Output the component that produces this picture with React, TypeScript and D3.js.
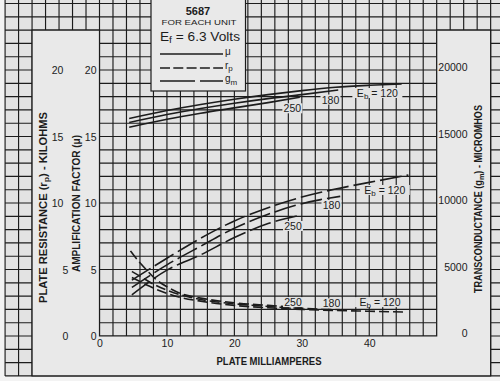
import React from "react";
import * as d3 from "d3";

type Pt = [number, number];

// Tick labels
const xTickValues = [0, 10, 20, 30, 40];
const rpTickValues = [0, 5, 10, 15, 20];
const muTickValues = [0, 5, 10, 15, 20];
const gmTickValues = [0, 5000, 10000, 15000, 20000];

// Amplification factor (mu) vs plate mA
const mu120: Pt[] = [[4.4, 16.35], [10, 16.95], [15, 17.4], [20, 17.8], [25, 18.15], [30, 18.45], [35, 18.7], [40, 18.85], [44.8, 18.95]];
const mu180: Pt[] = [[4.4, 16.05], [10, 16.65], [15, 17.1], [20, 17.5], [25, 17.85], [30, 18.15], [35.4, 18.5]];
const mu250: Pt[] = [[4.4, 15.7], [10, 16.3], [15, 16.75], [20, 17.15], [25, 17.55], [29.7, 17.95]];

// Transconductance (micromhos) vs plate mA
const gm120: Pt[] = [[4.8, 4200], [10, 5850], [15, 7350], [20, 8650], [25, 9650], [30, 10450], [35, 11050], [40, 11550], [45.8, 12100]];
const gm180: Pt[] = [[4.8, 3650], [10, 5350], [15, 6750], [20, 8100], [25, 9150], [30, 9950], [35.7, 10500]];
const gm250: Pt[] = [[4.8, 3100], [10, 4950], [15, 6100], [20, 7400], [25, 8450], [30, 9100]];

// Plate resistance (kilohms) vs plate mA
const rp250: Pt[] = [[4.6, 6.4], [6, 5.5], [7, 4.95], [8.5, 4.2], [10, 3.7], [12, 3.2], [15, 2.85], [20, 2.5], [25, 2.3], [30, 2.15]];
const rp180: Pt[] = [[4.8, 4.85], [6, 4.5], [8, 3.9], [10, 3.45], [12, 3.1], [15, 2.75], [20, 2.42], [25, 2.22], [30, 2.08], [35.7, 1.98]];
const rp120: Pt[] = [[4.8, 4.4], [6, 4.1], [8, 3.6], [10, 3.2], [12, 2.9], [15, 2.62], [20, 2.3], [25, 2.12], [30, 2.0], [35, 1.92], [40, 1.86], [45, 1.8]];

// Curve labels: [mA, value on left scale, text, subscriptLabel]
const curveLabels: { x: number; v: number; t: string; eb: boolean }[] = [
  { x: 28.6, v: 17.12, t: "250", eb: false },
  { x: 34.25, v: 17.78, t: "180", eb: false },
  { x: 41.2, v: 18.27, t: "120", eb: true },
  { x: 28.7, v: 8.27, t: "250", eb: false },
  { x: 34.4, v: 9.85, t: "180", eb: false },
  { x: 42.3, v: 10.98, t: "120", eb: true },
  { x: 28.7, v: 2.55, t: "250", eb: false },
  { x: 34.4, v: 2.45, t: "180", eb: false },
  { x: 41.6, v: 2.55, t: "120", eb: true },
];

const INK = "#1c1c1c";
const CELL = "#e3e3e3";
const PANEL = "#e9e9e9";
const OUTSIDE = "#f3f3f3";
const NUM_FONT = "'Liberation Sans', Arial, sans-serif";

export default function App() {
  const x = d3.scaleLinear().domain([0, 50]).range([99.5, 436.7]);
  const y = d3.scaleLinear().domain([0, 25]).range([336, 3.5]);
  const yGm = d3.scaleLinear().domain([0, 25000]).range([336, 3.5]);

  const lineL = d3.line<Pt>().x((d) => x(d[0])).y((d) => y(d[1])).curve(d3.curveMonotoneX);
  const lineG = d3.line<Pt>().x((d) => x(d[0])).y((d) => yGm(d[1])).curve(d3.curveMonotoneX);

  const gridLeft = x(-14);
  const gridBottom = y(-3);
  const vLines = d3.range(-14, 62, 2);
  const hLines = d3.range(-3, 26, 1);

  const pL = x(-10), p0 = x(0), p50 = x(50), pR = x(58);
  const pTop = y(23), pB = y(-3), pY0 = y(0);
  const panelPath = `M${pL},${pTop} L${pL},${pB} L${pR},${pB} L${pR},${pTop} L${p50},${pTop} L${p50},${pY0} L${p0},${pY0} L${p0},${pTop} Z`;

  return (
    <svg width={500} height={381} style={{ position: "absolute", left: 0, top: 0 }}>
      <rect x={0} y={0} width={500} height={381} fill={OUTSIDE} />
      <rect x={gridLeft} y={0} width={500 - gridLeft} height={gridBottom} fill={CELL} />
      <g stroke={INK} strokeWidth={1.15}>
        {vLines.map((m) => (
          <line key={"v" + m} x1={x(m)} x2={x(m)} y1={0} y2={gridBottom} />
        ))}
        {hLines.map((v) => (
          <line key={"h" + v} x1={gridLeft} x2={500} y1={y(v)} y2={y(v)} />
        ))}
      </g>
      <path d={panelPath} fill={PANEL} stroke={INK} strokeWidth={1.2} />

      {/* curves */}
      <g fill="none" stroke={INK} strokeWidth={1.6}>
        {[mu120, mu180, mu250].map((s, i) => (
          <path key={"mu" + i} d={lineL(s) || ""} />
        ))}
        {[gm120, gm180, gm250].map((s, i) => (
          <path key={"gm" + i} d={lineG(s) || ""} strokeDasharray="22,5" />
        ))}
        {[rp120, rp180, rp250].map((s, i) => (
          <path key={"rp" + i} d={lineL(s) || ""} strokeDasharray="10,4" />
        ))}
      </g>

      {/* curve labels */}
      {curveLabels.map((l, i) => {
        const cx = x(l.x);
        const cy = y(l.v);
        const w = l.eb ? 50 : 20;
        return (
          <g key={"cl" + i}>
            <rect x={cx - w / 2} y={cy - 5} width={w} height={10} fill={CELL} />
            <text x={cx} y={cy} textAnchor="middle" dominantBaseline="central" fontFamily={NUM_FONT} fontSize={10.5} fill={INK}>
              {l.eb ? (
                <>
                  <tspan>E</tspan>
                  <tspan fontSize={8} dy={3}>b</tspan>
                  <tspan dy={-3}> = {l.t}</tspan>
                </>
              ) : (
                l.t
              )}
            </text>
          </g>
        );
      })}

      {/* left outer ticks (rp) */}
      {rpTickValues.map((v) => (
        <text key={"rp" + v} x={String(v).length > 1 ? 57.5 : 65.5} y={y(v)} textAnchor="middle" dominantBaseline="central" fontFamily={NUM_FONT} fontSize={10.5} fill={INK}>
          {v}
        </text>
      ))}
      {/* left inner ticks (mu) */}
      {muTickValues.map((v) => (
        <text key={"mu" + v} x={96.5} y={y(v)} textAnchor="end" dominantBaseline="central" fontFamily={NUM_FONT} fontSize={10.5} fill={INK}>
          {v}
        </text>
      ))}
      {/* right ticks (gm) */}
      {gmTickValues.map((v) => (
        <text key={"gm" + v} x={467.5} y={yGm(v) - 3} textAnchor="end" dominantBaseline="central" fontFamily={NUM_FONT} fontSize={10.5} fill={INK}>
          {v}
        </text>
      ))}
      {/* bottom ticks */}
      {xTickValues.map((v) => (
        <text key={"x" + v} x={x(v) + 0.5} y={343} textAnchor="middle" dominantBaseline="central" fontFamily={NUM_FONT} fontSize={10.5} fill={INK}>
          {v}
        </text>
      ))}

      {/* axis titles */}
      <text x={269} y={361} textAnchor="middle" dominantBaseline="central" fontFamily={NUM_FONT} fontWeight="bold" fontSize={10} textLength={105} lengthAdjust="spacingAndGlyphs" fill={INK}>
        PLATE MILLIAMPERES
      </text>
      <g transform={`translate(43,207.5) rotate(-90)`}>
        <text x={0} y={0} textAnchor="middle" dominantBaseline="central" fontFamily={NUM_FONT} fontWeight="bold" fontSize={10} textLength={191} lengthAdjust="spacingAndGlyphs" fill={INK}>
          PLATE RESISTANCE (r<tspan fontSize={8} dy={2.5}>p</tspan><tspan dy={-2.5}>) - KILOHMS</tspan>
        </text>
      </g>
      <g transform={`translate(76.5,203.5) rotate(-90)`}>
        <text x={0} y={0} textAnchor="middle" dominantBaseline="central" fontFamily={NUM_FONT} fontWeight="bold" fontSize={10} textLength={137} lengthAdjust="spacingAndGlyphs" fill={INK}>
          AMPLIFICATION FACTOR (μ)
        </text>
      </g>
      <g transform={`translate(478,199) rotate(-90)`}>
        <text x={0} y={0} textAnchor="middle" dominantBaseline="central" fontFamily={NUM_FONT} fontWeight="bold" fontSize={10} textLength={188} lengthAdjust="spacingAndGlyphs" fill={INK}>
          TRANSCONDUCTANCE (g<tspan fontSize={8} dy={2.5}>m</tspan><tspan dy={-2.5}>) - MICROMHOS</tspan>
        </text>
      </g>

      {/* legend */}
      <rect x={151} y={-2} width={94.5} height={93} fill={PANEL} stroke={INK} strokeWidth={1.2} />
      <text x={198} y={11} textAnchor="middle" dominantBaseline="central" fontFamily={NUM_FONT} fontSize={11} fontWeight={600} fill={INK}>
        5687
      </text>
      <text x={199} y={22.5} textAnchor="middle" dominantBaseline="central" fontFamily={NUM_FONT} fontSize={7.5} textLength={75} lengthAdjust="spacingAndGlyphs" fill={INK}>
        FOR EACH UNIT
      </text>
      <text x={160} y={37} dominantBaseline="central" fontFamily={NUM_FONT} fontSize={12} textLength={80} lengthAdjust="spacingAndGlyphs" fill={INK}>
        E<tspan fontSize={9} dy={3}>f</tspan><tspan dy={-3}> = 6.3 Volts</tspan>
      </text>
      <g stroke={INK} strokeWidth={1.6}>
        <line x1={160} x2={223} y1={54} y2={54} />
        <line x1={160} x2={223} y1={68} y2={68} strokeDasharray="10,3.3" />
        <line x1={160} x2={223} y1={81} y2={81} strokeDasharray="35,5" />
      </g>
      <text x={225} y={51} fontFamily={NUM_FONT} fontSize={10} dominantBaseline="central" fill={INK}>μ</text>
      <text x={225} y={65} fontFamily={NUM_FONT} fontSize={10} dominantBaseline="central" fill={INK}>
        r<tspan fontSize={8} dy={3}>p</tspan>
      </text>
      <text x={225} y={78.5} fontFamily={NUM_FONT} fontSize={10} dominantBaseline="central" fill={INK}>
        g<tspan fontSize={8} dy={3}>m</tspan>
      </text>
    </svg>
  );
}
